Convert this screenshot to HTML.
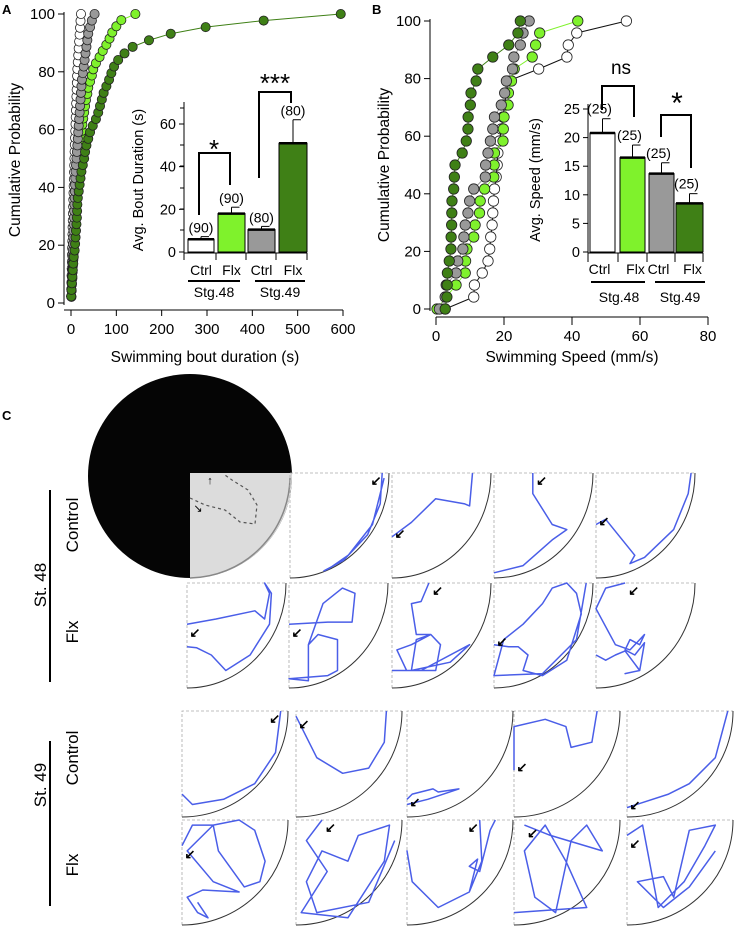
<!DOCTYPE html>
<html><head><meta charset="utf-8"><style>
html,body{margin:0;padding:0;background:#fff}
svg{display:block;font-family:"Liberation Sans",sans-serif}
</style></head><body>
<svg id="fig" width="736" height="928" viewBox="0 0 736 928" xmlns="http://www.w3.org/2000/svg">
<text x="2" y="14" font-size="13" font-weight="bold">A</text>
<text x="372" y="14" font-size="13" font-weight="bold">B</text>
<text x="2" y="420" font-size="13" font-weight="bold">C</text>
<g id="gA"></g>
<g id="gB"></g>
<g id="gC"></g>
</svg>
<script>
// ---- Panel A data ----
const aCtrl48 = [0.3,0.6,1,1.3,1.6,2,2.3,2.6,3,3.3,3.6,4,4.4,4.8,5.2,5.6,6,6.4,6.8,7.2,7.6,8,8.5,9,9.5,10,10.5,11,11.5,12,12.5,13,13.5,14,15,16,17,18,19,20,21,22];
const aCtrl49 = [0.5,1,1.5,2,2.5,3,3.5,4,4.5,5,5.5,6,6.5,7,7.5,8,8.5,9,9.5,10,11,12,13,14,15,16,17,18,19,20,21,22,23,24,26,28,30,32,34,36,38,42,46,52];
const aFlx48 = [1,1.5,2,3,3.5,4,5,5.5,6,7,7.5,8,9,10,11,12,13,14,15,16,17,18,19,20,21,22,23,24,25,27,29,31,33,36,38,42,46,49,55,63,70,78,85,91,100,111,142];
const aFlx49 = [0.5,1,2,3,4,5,6,8,9,10,11,12,13,13.5,14,15,17,19,21,23,26,29,31,34,38,42,48,55,60,64,68,72,78,84,89,95,104,118,136,172,220,297,425,595];
const aBarCats = ["Ctrl","Flx","Ctrl","Flx"];
const aBarVals = [6,18,10.5,51];
const aBarErr = [7.2,21,12,62];
const aBarN = ["(90)","(90)","(80)","(80)"];
const aXTicks = [0,100,200,300,400,500,600];
const aYTicks = [0,20,40,60,80,100];
const aInsetTicks = [0,20,40,60];
// ---- Panel B data ----
const bCtrl48 = [2.7,11.1,11.3,13.6,15.3,15.8,16.1,16.5,16.7,16.9,17.2,17.7,18,18.2,18.7,19.2,19.7,20.2,20.6,21.2,30.2,38.5,38.9,41.4,56];
const bCtrl49 = [1,2.7,3,5.9,6.4,7.9,8.2,8.6,9.4,9.9,11.1,14.5,14.6,15.3,16,16.7,17.2,19.2,20.2,20.7,22.5,22.9,24.8,25.6,27.4];
const bFlx48 = [0.3,3,5.9,8.6,8.7,9.1,11.1,11.5,12.8,13,14.3,17,17.1,17.2,19.7,19.8,20,21.2,21.3,22.2,23,28.3,29.3,30.5,41.7];
const bFlx49 = [2.7,3.2,3.3,3.35,3.9,4.4,4.45,4.6,4.65,4.7,5.2,5.4,5.6,7.7,8.9,9.4,9.45,10.1,10.3,11.8,12.3,16.7,21.4,24.1,24.8];
const bBarCats = ["Ctrl","Flx","Ctrl","Flx"];
const bBarVals = [20.8,16.5,13.7,8.5];
const bBarErr = [23.3,18.7,15.6,10.2];
const bBarN = ["(25)","(25)","(25)","(25)"];
const bXTicks = [0,20,40,60,80];
const bYTicks = [0,20,40,60,80,100];
const bInsetTicks = [0,5,10,15,20,25];

const NS="http://www.w3.org/2000/svg";
function mk(parent,tag,attrs,txt){const e=document.createElementNS(NS,tag);for(const k in attrs)e.setAttribute(k,attrs[k]);if(txt!==undefined)e.textContent=txt;parent.appendChild(e);return e;}
const colW="#ffffff",colG="#999999",colLG="#7ff22c",colDG="#3f8016";

const axAx=v=>71+v*(343-71)/600, axAy=p=>303-p*(303-14)/100;
const ibAy=v=>252-v*(252-124)/60;
const bxX=v=>436+v*(708-436)/80, bxY=p=>309-p*(309-21)/100;
const ibBy=v=>252-v*(252-109)/25;

function cdf(g,vals,xf,yf,fill,line,name,r){
  const n=vals.length;
  const pts=vals.map((v,i)=>[xf(v),yf(n===25? i/24*100 : (i+1)/n*100)]);
  const pl=mk(g,'polyline',{points:pts.map(p=>p.join(',')).join(' '),fill:'none',stroke:line,'stroke-width':1});
  
  
  pts.forEach(p=>{const c=mk(g,'circle',{cx:p[0],cy:p[1],r:r,fill:fill,stroke:'#222','stroke-width':0.8});
    
    });
}

// ---------- Panel A ----------
const gA=document.getElementById('gA');
mk(gA,'line',{x1:64,y1:12,x2:64,y2:305,stroke:'#000'});
mk(gA,'line',{x1:64,y1:310,x2:343,y2:310,stroke:'#000'});
aYTicks.forEach(t=>{const y=axAy(t);mk(gA,'line',{x1:58,y1:y,x2:64,y2:y,stroke:'#000'});
  const tx=mk(gA,'text',{x:55,y:y+5,'font-size':15,'text-anchor':'end'},t);
  
  });
aXTicks.forEach(t=>{const x=axAx(t);mk(gA,'line',{x1:x,y1:310,x2:x,y2:316,stroke:'#000'});
  const tx=mk(gA,'text',{x:x,y:334,'font-size':15,'text-anchor':'middle'},t);
  
  });
let t1=mk(gA,'text',{x:205,y:362,'font-size':15.5,'text-anchor':'middle'},'Swimming bout duration (s)');

t1=mk(gA,'text',{x:0,y:0,'font-size':15.5,'text-anchor':'middle',transform:'translate(20,160) rotate(-90)'},'Cumulative Probability');

cdf(gA,aCtrl48,axAx,axAy,colW,'#555','a-ctrl48',4.6);
cdf(gA,aFlx48,axAx,axAy,colLG,colLG,'a-flx48',4.6);
cdf(gA,aCtrl49,axAx,axAy,colG,'#888','a-ctrl49',4.6);
cdf(gA,aFlx49,axAx,axAy,colDG,colDG,'a-flx49',4.6);
// inset A
const barXA=[188,218,248,279], barWA=[26,27,27,28], fillsA=[colW,colLG,colG,colDG];
mk(gA,'line',{x1:184,y1:102,x2:184,y2:254,stroke:'#000'});
aInsetTicks.forEach(t=>{const y=ibAy(t);mk(gA,'line',{x1:179,y1:y,x2:184,y2:y,stroke:'#000'});
  const tx=mk(gA,'text',{x:176,y:y+5,'font-size':14.5,'text-anchor':'end'},t);
  });
[108,145,166,188,209,230].forEach(y=>mk(gA,'line',{x1:180,y1:y,x2:184,y2:y,stroke:'#000'}));
t1=mk(gA,'text',{x:0,y:0,'font-size':14.5,'text-anchor':'middle',transform:'translate(143,180) rotate(-90)'},'Avg. Bout Duration (s)');

aBarVals.forEach((v,i)=>{
  const x=barXA[i],w=barWA[i],y=ibAy(v),ey=ibAy(aBarErr[i]),cx=x+w/2;
  mk(gA,'line',{x1:cx,y1:y,x2:cx,y2:ey,stroke:'#000'});
  mk(gA,'line',{x1:cx,y1:ey,x2:cx+8,y2:ey,stroke:'#000'});
  const b=mk(gA,'rect',{x:x,y:y,width:w,height:252-y,fill:fillsA[i],stroke:'#000','stroke-width':1});
  
  mk(gA,'line',{x1:x,y1:y,x2:x+w,y2:y,stroke:'#000','stroke-width':2.5});
  const n=mk(gA,'text',{x:cx,y:Math.min(ey,y)-4,'font-size':14,'text-anchor':'middle'},aBarN[i]);
  
  const c=mk(gA,'text',{x:cx,y:275,'font-size':14,'text-anchor':'middle'},aBarCats[i]);
  
});
mk(gA,'line',{x1:184,y1:253,x2:307,y2:253,stroke:'#000'});
[184,216,246,276,307].forEach(x=>mk(gA,'line',{x1:x,y1:253,x2:x,y2:260,stroke:'#000'}));
mk(gA,'line',{x1:188,y1:281,x2:240,y2:281,stroke:'#000','stroke-width':2});
mk(gA,'line',{x1:255,y1:281,x2:305,y2:281,stroke:'#000','stroke-width':2});
t1=mk(gA,'text',{x:214,y:297,'font-size':14,'text-anchor':'middle'},'Stg.48');
t1=mk(gA,'text',{x:280,y:297,'font-size':14,'text-anchor':'middle'},'Stg.49');
mk(gA,'polyline',{points:'199,215 199,153 230,153 230,185',fill:'none',stroke:'#000','stroke-width':2});
t1=mk(gA,'text',{x:214,y:158,'font-size':26,'text-anchor':'middle'},'*');
mk(gA,'polyline',{points:'259,178 259,92 291,92 291,103',fill:'none',stroke:'#000','stroke-width':2});
t1=mk(gA,'text',{x:275,y:92,'font-size':26,'text-anchor':'middle'},'***');

// ---------- Panel B ----------
const gB=document.getElementById('gB');
mk(gB,'line',{x1:430,y1:19,x2:430,y2:311,stroke:'#000'});
mk(gB,'line',{x1:436,y1:317,x2:708,y2:317,stroke:'#000'});
bYTicks.forEach(t=>{const y=bxY(t);mk(gB,'line',{x1:424,y1:y,x2:430,y2:y,stroke:'#000'});
  const tx=mk(gB,'text',{x:421,y:y+5,'font-size':15,'text-anchor':'end'},t);
  });
bXTicks.forEach(t=>{const x=bxX(t);mk(gB,'line',{x1:x,y1:317,x2:x,y2:325,stroke:'#000'});
  const tx=mk(gB,'text',{x:x,y:341,'font-size':15,'text-anchor':'middle'},t);
  });
t1=mk(gB,'text',{x:572,y:362,'font-size':15.5,'text-anchor':'middle'},'Swimming Speed (mm/s)');

t1=mk(gB,'text',{x:0,y:0,'font-size':15.5,'text-anchor':'middle',transform:'translate(389,165) rotate(-90)'},'Cumulative Probability');

cdf(gB,bCtrl48,bxX,bxY,colW,'#111','b-ctrl48',5.2);
cdf(gB,bFlx48,bxX,bxY,colLG,colLG,'b-flx48',5.2);
cdf(gB,bCtrl49,bxX,bxY,colG,'#999','b-ctrl49',5.2);
cdf(gB,bFlx49,bxX,bxY,colDG,colDG,'b-flx49',5.2);
// inset B
const barXB=[590,620,649,676], barWB=[25,25,25,27];
mk(gB,'line',{x1:588,y1:104,x2:588,y2:254,stroke:'#000'});
bInsetTicks.forEach(t=>{const y=ibBy(t);mk(gB,'line',{x1:583,y1:y,x2:588,y2:y,stroke:'#000'});
  const tx=mk(gB,'text',{x:580,y:y+5,'font-size':14.5,'text-anchor':'end'},t);
  });
t1=mk(gB,'text',{x:0,y:0,'font-size':14.5,'text-anchor':'middle',transform:'translate(540,180) rotate(-90)'},'Avg. Speed (mm/s)');

bBarVals.forEach((v,i)=>{
  const x=barXB[i],w=barWB[i],y=ibBy(v),ey=ibBy(bBarErr[i]),cx=x+w/2;
  mk(gB,'line',{x1:cx,y1:y,x2:cx,y2:ey,stroke:'#000'});
  mk(gB,'line',{x1:cx,y1:ey,x2:cx+8,y2:ey,stroke:'#000'});
  const b=mk(gB,'rect',{x:x,y:y,width:w,height:252-y,fill:fillsA[i],stroke:'#000','stroke-width':1});
  
  mk(gB,'line',{x1:x,y1:y,x2:x+w,y2:y,stroke:'#000','stroke-width':2.5});
  const n=mk(gB,'text',{x:cx-3,y:ey-5,'font-size':14,'text-anchor':'middle'},bBarN[i]);
  
  const c=mk(gB,'text',{x:cx+(i%2?3:-3),y:274,'font-size':14,'text-anchor':'middle'},bBarCats[i]);
  
});
mk(gB,'line',{x1:588,y1:253,x2:703,y2:253,stroke:'#000'});
[588,618,647,675,703].forEach(x=>mk(gB,'line',{x1:x,y1:253,x2:x,y2:262,stroke:'#000'}));
mk(gB,'line',{x1:591,y1:282,x2:645,y2:282,stroke:'#000','stroke-width':2});
mk(gB,'line',{x1:655,y1:282,x2:705,y2:282,stroke:'#000','stroke-width':2});
t1=mk(gB,'text',{x:619,y:302,'font-size':14,'text-anchor':'middle'},'Stg.48');
t1=mk(gB,'text',{x:680,y:302,'font-size':14,'text-anchor':'middle'},'Stg.49');
mk(gB,'polyline',{points:'602,110 602,86 634,86 634,117',fill:'none',stroke:'#000','stroke-width':2});
t1=mk(gB,'text',{x:621,y:74,'font-size':19,'text-anchor':'middle'},'ns');
mk(gB,'polyline',{points:'661,137 661,115 691,115 691,168',fill:'none',stroke:'#000','stroke-width':2});
t1=mk(gB,'text',{x:677,y:113,'font-size':30,'text-anchor':'middle'},'*');

// ---------- Panel C ----------
const gC=document.getElementById('gC');
mk(gC,'defs',{}).innerHTML='<clipPath id="cc"><circle cx="190" cy="476" r="102"/></clipPath>';
const big=mk(gC,'circle',{cx:190,cy:476,r:102,fill:'#050505'});

mk(gC,'rect',{x:190,y:473,width:103,height:106,fill:'#dcdcdc','clip-path':'url(#cc)'});
mk(gC,'path',{d:'M190 578 A102 102 0 0 0 290 478',fill:'none',stroke:'#888','stroke-width':1.5});
mk(gC,'polyline',{points:'190,498 205,505 225,510 240,522 255,524 257,505 248,490 232,480 225,475',fill:'none',stroke:'#555','stroke-width':1.2,'stroke-dasharray':'3,3'});
mk(gC,'text',{x:210,y:484,'font-size':11,'text-anchor':'middle'},'↑');
mk(gC,'text',{x:198,y:512,'font-size':11,'text-anchor':'middle'},'↘');

const trajs=[
 [[0.95,0],[0.93,0.3],[0.8,0.6],[0.55,0.85],[0.35,0.95],[0.4,0.93],[0.6,0.8],[0.85,0.5],[0.97,0.05]],
 [[0,0.62],[0.2,0.48],[0.45,0.25],[0.75,0.3],[0.8,0.32],[0.83,0.0]],
 [[0.4,0],[0.4,0.2],[0.6,0.5],[0.75,0.55],[0.6,0.65],[0.3,0.9],[0,0.97]],
 [[0,0.5],[0.1,0.45],[0.4,0.8],[0.35,0.88],[0.5,0.82],[0.8,0.55],[0.95,0.2],[0.98,0]],
 [[0,0.4],[0.3,0.35],[0.7,0.27],[0.8,0.35],[0.85,0.1],[0.8,0.0],[0.87,0.1],[0.85,0.4],[0.65,0.7],[0.4,0.85],[0.25,0.7],[0.1,0.63],[0,0.62]],
 [[0,0.4],[0.4,0.38],[0.65,0.38],[0.68,0.1],[0.55,0.05],[0.35,0.2],[0.2,0.6],[0.2,0.95],[0,0.93],[0.4,0.9],[0.5,0.85],[0.5,0.55],[0.3,0.5],[0.2,0.6]],
 [[0.38,0],[0.3,0.18],[0.2,0.2],[0.25,0.5],[0.4,0.5],[0.5,0.6],[0.45,0.85],[0.15,0.85],[0.05,0.65],[0.2,0.6],[0.4,0.5],[0.25,0.55],[0.2,0.85],[0.6,0.77],[0.8,0.6],[0.3,0.85],[0,0.85]],
 [[0,0.6],[0.15,0.62],[0.25,0.62],[0.35,0.7],[0.3,0.85],[0.5,0.9],[0.75,0.75],[0.9,0.3],[0.85,0.1],[0.75,0],[0.6,0.05],[0.5,0.2],[0.3,0.4],[0.1,0.55],[0,0.9],[0.5,0.88],[0.85,0.55],[0.95,0]],
 [[0.3,0],[0.1,0.05],[0,0.25],[0.2,0.6],[0.35,0.65],[0.45,0.55],[0.5,0.5],[0.45,0.6],[0.35,0.55],[0.3,0.65],[0.4,0.7],[0.5,0.58],[0.45,0.85],[0.3,0.88],[0.45,0.85],[0.3,0.66],[0.2,0.7],[0.1,0.75],[0,0.7]],
 [[0.95,0],[0.9,0.4],[0.7,0.7],[0.4,0.85],[0.1,0.9],[0,0.8]],
 [[0,0.05],[0.2,0.45],[0.45,0.6],[0.7,0.55],[0.85,0.3],[0.87,0]],
 [[0,0.9],[0.2,0.85],[0.5,0.75],[0.3,0.78],[0.25,0.75],[0.05,0.8],[0,0.85]],
 [[0,0.57],[0,0.15],[0.3,0.08],[0.5,0.15],[0.55,0.35],[0.75,0.3],[0.8,0]],
 [[0,0.93],[0.4,0.8],[0.6,0.7],[0.85,0.45],[0.97,0]],
 [[0,0.25],[0.1,0.05],[0.3,0.05],[0.35,0.3],[0.6,0.65],[0.75,0.6],[0.8,0.4],[0.7,0.1],[0.55,0],[0.3,0.05],[0.05,0.3],[0.3,0.6],[0.55,0.7],[0.2,0.68],[0.05,0.75],[0.15,0.9],[0.25,0.95],[0.15,0.8]],
 [[0.25,0],[0.1,0.2],[0.3,0.5],[0.05,0.9],[0.5,0.95],[0.85,0.4],[0.9,0.05],[0.6,0.15],[0.5,0.4],[0.25,0.3],[0.1,0.6],[0.2,0.9],[0.7,0.8],[0.95,0.2]],
 [[0.7,0],[0.72,0.4],[0.6,0.7],[0.3,0.85],[0.05,0.6],[0,0.3],[0.05,0.6],[0.3,0.85],[0.6,0.7],[0.68,0.38],[0.6,0.45],[0.7,0.5],[0.8,0.1],[0.85,0]],
 [[0.1,0.05],[0.35,0.15],[0.85,0.3],[0.7,0.05],[0.55,0.2],[0.4,0.9],[0.2,0.75],[0.1,0.3],[0.3,0.05],[0.5,0.4],[0.7,0.85],[0,0.9]],
 [[0,0.15],[0.15,0.05],[0.3,0.85],[0.55,0.6],[0.75,0.25],[0.85,0.05],[0.6,0.1],[0.45,0.75],[0.35,0.55],[0.1,0.6],[0.35,0.85],[0.6,0.65],[0.85,0.3]]
];
const cells=[];
[290,392,494,596].forEach(x=>cells.push([x,473,99,105]));
[187,289,392,494,596].forEach(x=>cells.push([x,583,99,105]));
[182,296,407,514,627].forEach(x=>cells.push([x,711,106,106]));
[182,296,407,514,627].forEach(x=>cells.push([x,820,106,105]));
cells.forEach((c,i)=>{
  const [x,y,w,h]=c;
  const g=mk(gC,'g',{});
  
  
  mk(g,'path',{d:`M${x} ${y+h} L${x} ${y} L${x+w} ${y}`,fill:'none',stroke:'#aaa','stroke-width':0.8,'stroke-dasharray':'3,2'});
  mk(g,'path',{d:`M${x+w} ${y} A${w} ${h} 0 0 1 ${x} ${y+h}`,fill:'none',stroke:'#333','stroke-width':1});
  const t=trajs[i];
  mk(g,'polyline',{points:t.map(p=>(x+p[0]*w*0.98).toFixed(1)+','+(y+p[1]*h*0.98).toFixed(1)).join(' '),fill:'none',stroke:'#4a5ee8','stroke-width':1.5,'stroke-linejoin':'round'});
  const s=t[0];
  mk(g,'text',{x:x+s[0]*w+(s[0]>0.5?-8:8),y:y+s[1]*h+(s[1]<0.5?12:0),'font-size':13,'font-weight':'bold','text-anchor':'middle'},'↙');
});
function lab(txt,x,y,name){const t=mk(gC,'text',{x:0,y:0,'font-size':17,'text-anchor':'middle',transform:`translate(${x},${y}) rotate(-90)`},txt);
 }
lab('St. 48',46,585,'st48-label');lab('Control',78,525,'st48-control-label');lab('Flx',78,632,'st48-flx-label');
lab('St. 49',46,785,'st49-label');lab('Control',78,758,'st49-control-label');lab('Flx',78,865,'st49-flx-label');
mk(gC,'line',{x1:50,y1:490,x2:50,y2:682,stroke:'#000','stroke-width':2});
mk(gC,'line',{x1:50,y1:741,x2:50,y2:906,stroke:'#000','stroke-width':2});
</script>
</body></html>
